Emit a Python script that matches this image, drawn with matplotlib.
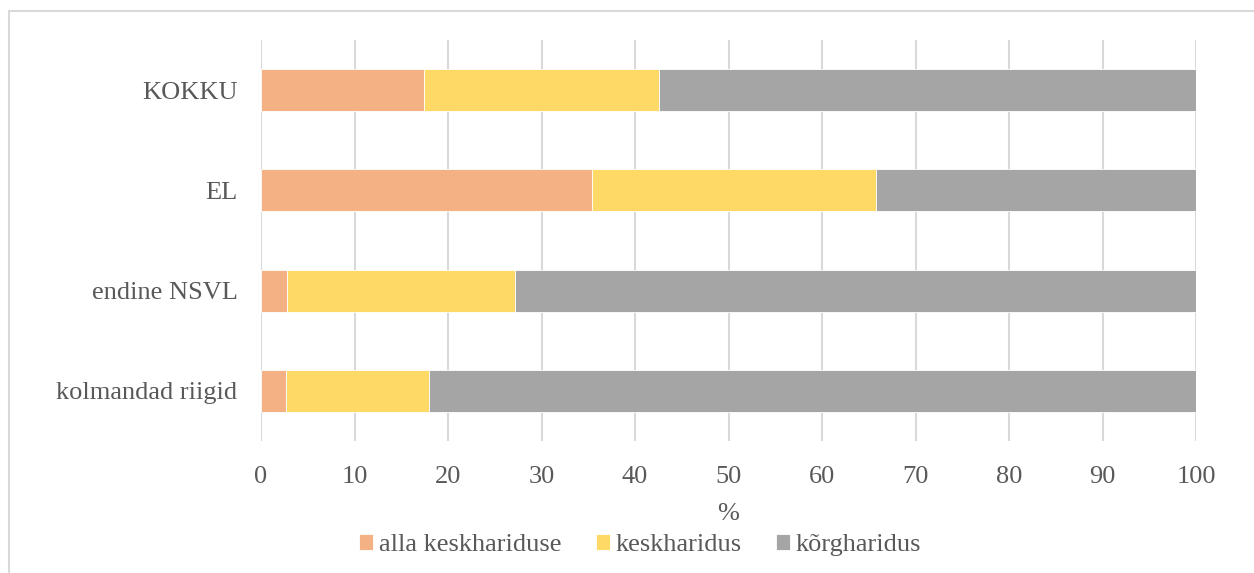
import matplotlib
matplotlib.use("Agg")
import matplotlib.pyplot as plt
from matplotlib.patches import Rectangle
import numpy as np

categories = ["KOKKU", "EL", "endine NSVL", "kolmandad riigid"]
alla = [17.4, 35.4, 2.8, 2.7]
kesk = [25.2, 30.4, 24.4, 15.3]
korg = [57.4, 34.2, 72.8, 82.0]
series_names = ["alla keskhariduse", "keskharidus", "kõrgharidus"]
colors = ["#F4B183", "#FFD966", "#A5A5A5"]
xticks = list(range(0, 101, 10))

plt.rcParams['font.family'] = ['Liberation Serif', 'DejaVu Serif']
txt = "#595959"
fs = 19

fig = plt.figure(figsize=(12.54, 5.73), dpi=100)
ax = fig.add_axes([261/1254, 1-441/573, (1196-261)/1254, 401/573])

y = np.arange(len(categories))[::-1]
left = np.zeros(len(categories))
for vals, name, c in zip([alla, kesk, korg], series_names, colors):
    ax.barh(y, vals, left=left, height=0.42, color=c, label=name,
            edgecolor="white", linewidth=0.6, zorder=3)
    left = left + np.array(vals)

ax.set_xlim(0, 100)
ax.set_ylim(-0.5, 3.5)
ax.set_xticks(xticks)
ax.set_yticks(y)
ax.set_yticklabels(categories)
ax.grid(axis="x", color="#D9D9D9", linewidth=1.5, zorder=0)
for s in ax.spines.values():
    s.set_visible(False)
ax.tick_params(axis="both", length=0, labelsize=fs, labelcolor=txt)
ax.tick_params(axis="x", pad=18)
ax.tick_params(axis="y", pad=17)
ax.set_xlabel("%", fontsize=fs, color=txt, labelpad=11)

leg = fig.legend(loc="center", bbox_to_anchor=(640/1254, 1-545/573), ncol=3,
                 frameon=False, fontsize=fs, handlelength=0.55, handleheight=0.55,
                 handletextpad=0.2, columnspacing=1.3)
for t in leg.get_texts():
    t.set_color(txt)

fig.patches.append(Rectangle((8.5/1254, -0.1), 1.2, 1-11/573+0.1, transform=fig.transFigure,
                             fill=False, edgecolor="#D9D9D9", linewidth=1.5))

fig.savefig("out.png", dpi=100)
